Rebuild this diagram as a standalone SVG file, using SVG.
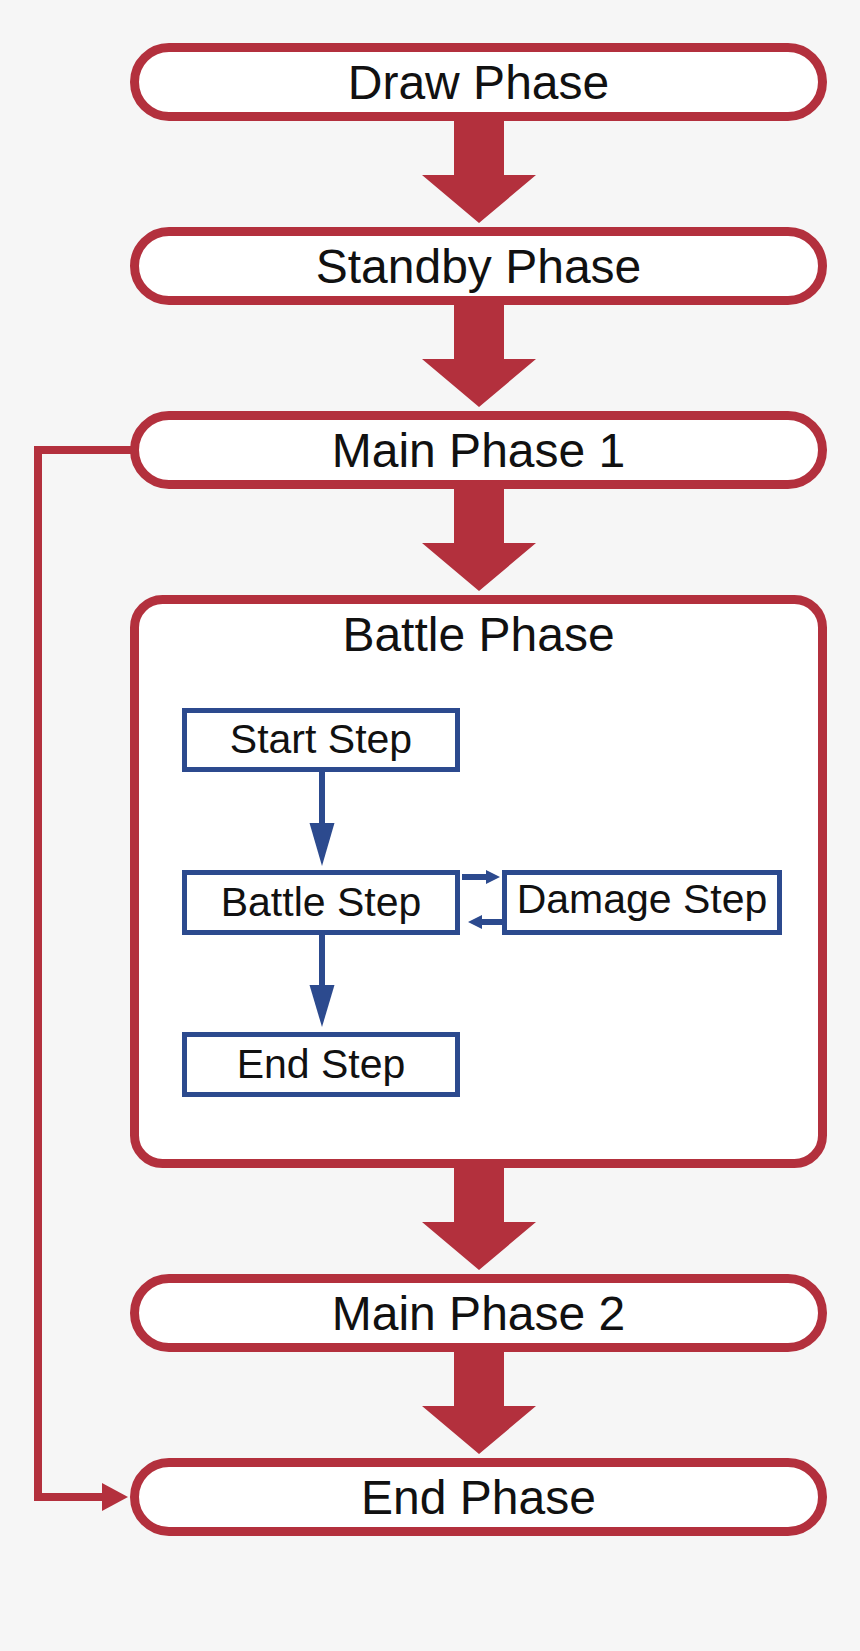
<svg xmlns="http://www.w3.org/2000/svg" width="860" height="1651" viewBox="0 0 860 1651">
  <style>
    .pill { fill: #ffffff; stroke: #b3303d; stroke-width: 9; }
    .step { fill: #ffffff; stroke: #2c4a8e; stroke-width: 5; }
    .fat { fill: #b3303d; }
    .bl { stroke: #2c4a8e; stroke-width: 6; fill: none; }
    .bh { fill: #2c4a8e; }
    .t1 { font-family: "Liberation Sans", Arial, sans-serif; font-size: 48px; fill: #111111; text-anchor: middle; }
    .t2 { font-family: "Liberation Sans", Arial, sans-serif; font-size: 41px; fill: #111111; text-anchor: middle; }
  </style>
  <rect x="0" y="0" width="860" height="1651" fill="#f6f6f6"/>

  <g id="connectors">
    <polygon class="fat" points="454,118 504,118 504,175 536,175 479,223 422,175 454,175"/>
    <polygon class="fat" points="454,302 504,302 504,359 536,359 479,407 422,359 454,359"/>
    <polygon class="fat" points="454,486 504,486 504,543 536,543 479,591 422,543 454,543"/>
    <polygon class="fat" points="454,1165 504,1165 504,1222 536,1222 479,1270 422,1222 454,1222"/>
    <polygon class="fat" points="454,1349 504,1349 504,1406 536,1406 479,1454 422,1406 454,1406"/>
    <path d="M134,450 H38 V1497 H104" fill="none" stroke="#b3303d" stroke-width="8"/>
    <polygon class="fat" points="102,1483 128,1497 102,1511"/>
  </g>

  <g id="draw-phase">
    <rect class="pill" x="134.5" y="47.5" width="688" height="69" rx="34.5"/>
    <text class="t1" x="478.5" y="99">Draw Phase</text>
  </g>
  <g id="standby-phase">
    <rect class="pill" x="134.5" y="231.5" width="688" height="69" rx="34.5"/>
    <text class="t1" x="478.5" y="283">Standby Phase</text>
  </g>
  <g id="main-phase-1">
    <rect class="pill" x="134.5" y="415.5" width="688" height="69" rx="34.5"/>
    <text class="t1" x="478.5" y="467">Main Phase 1</text>
  </g>
  <g id="battle-phase">
    <rect class="pill" x="134.5" y="599.5" width="688" height="564" rx="28"/>
    <text class="t1" x="478.5" y="651">Battle Phase</text>
  </g>

  <g id="battle-connectors">
    <line class="bl" x1="322" y1="772" x2="322" y2="826"/>
    <polygon class="bh" points="309.5,823 334.5,823 322,866"/>
    <line class="bl" x1="322" y1="935" x2="322" y2="988"/>
    <polygon class="bh" points="309.5,985 334.5,985 322,1027"/>
    <line class="bl" x1="462" y1="877" x2="488" y2="877" stroke-width="5"/>
    <polygon class="bh" points="486,870 486,884 500,877"/>
    <line class="bl" x1="502" y1="922" x2="480" y2="922" stroke-width="5"/>
    <polygon class="bh" points="482,915 482,929 468,922"/>
  </g>

  <g id="start-step">
    <rect class="step" x="184.5" y="710.5" width="273" height="59"/>
    <text class="t2" x="321" y="753">Start Step</text>
  </g>
  <g id="battle-step">
    <rect class="step" x="184.5" y="872.5" width="273" height="60"/>
    <text class="t2" x="321" y="916">Battle Step</text>
  </g>
  <g id="damage-step">
    <rect class="step" x="504.5" y="872.5" width="275" height="60"/>
    <text class="t2" x="642" y="913">Damage Step</text>
  </g>
  <g id="end-step">
    <rect class="step" x="184.5" y="1034.5" width="273" height="60"/>
    <text class="t2" x="321" y="1078">End Step</text>
  </g>

  <g id="main-phase-2">
    <rect class="pill" x="134.5" y="1278.5" width="688" height="69" rx="34.5"/>
    <text class="t1" x="478.5" y="1330">Main Phase 2</text>
  </g>
  <g id="end-phase">
    <rect class="pill" x="134.5" y="1462.5" width="688" height="69" rx="34.5"/>
    <text class="t1" x="478.5" y="1514">End Phase</text>
  </g>
</svg>
